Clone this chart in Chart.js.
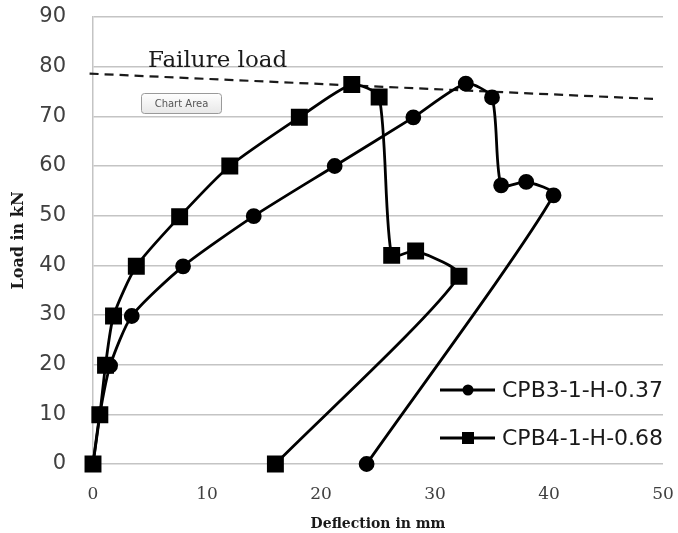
<!DOCTYPE html>
<html>
<head>
<meta charset="utf-8">
<script src="https://cdn.jsdelivr.net/npm/chart.js@4/dist/chart.umd.min.js"></script>
<style>
  html, body { margin: 0; padding: 0; background: #ffffff; }
  #wrap { width: 678px; height: 533px; position: relative; }
</style>
</head>
<body>
<div id="wrap"><canvas id="c"></canvas></div>
<script>
// ---- data ----
const seriesNames = ['CPB3-1-H-0.37', 'CPB4-1-H-0.68'];

const cpb3Deflection = [0, 0.6, 1.5, 3.4, 7.9, 14.1, 21.2, 28.1, 32.7, 35.0, 35.8, 38.0, 40.4, 24.0];
const cpb3Load       = [0, 10, 19.8, 29.8, 39.8, 49.9, 60.0, 69.8, 76.6, 73.8, 56.1, 56.8, 54.1, 0];

const cpb4Deflection = [0, 0.6, 1.1, 1.8, 3.8, 7.6, 12.0, 18.1, 22.7, 25.1, 26.2, 28.3, 32.1, 16.0];
const cpb4Load       = [0, 9.9, 19.9, 29.8, 39.8, 49.8, 60.0, 69.8, 76.4, 73.9, 42.0, 42.9, 37.8, 0];

const failureLabel = 'Failure load';
const failureDeflection = [-0.3, 49.2];
const failureLoad       = [78.6, 73.5];

const xTicks = [0, 10, 20, 30, 40, 50];
const yTicks = [0, 10, 20, 30, 40, 50, 60, 70, 80, 90];

const toPts = (xs, ys) => xs.map((x, i) => ({ x: x, y: ys[i] }));

// custom in-plot legend + annotations
const overlayPlugin = {
  id: 'overlay',
  afterDraw(chart) {
    const ctx = chart.ctx;
    ctx.save();
    // Failure load label
    ctx.fillStyle = '#1a1a1a';
    ctx.font = '23px "DejaVu Serif"';
    ctx.textBaseline = 'alphabetic';
    ctx.textAlign = 'left';
    ctx.fillText(failureLabel, 148, 67);

    // "Chart Area" tooltip box
    const bx = 141, by = 93, bw = 80, bh = 20;
    const g = ctx.createLinearGradient(0, by, 0, by + bh);
    g.addColorStop(0, '#ffffff');
    g.addColorStop(1, '#e8e8e8');
    ctx.fillStyle = g;
    ctx.strokeStyle = '#9a9a9a';
    ctx.lineWidth = 1;
    ctx.beginPath();
    if (ctx.roundRect) ctx.roundRect(bx + 0.5, by + 0.5, bw, bh, 3); else ctx.rect(bx + 0.5, by + 0.5, bw, bh);
    ctx.fill();
    ctx.stroke();
    ctx.fillStyle = '#555555';
    ctx.font = '10px "DejaVu Sans"';
    ctx.textAlign = 'center';
    ctx.textBaseline = 'middle';
    ctx.fillText('Chart Area', bx + bw / 2 + 0.5, by + bh / 2 + 1);

    // legend
    const rows = [390, 438];
    chart.data.datasets.slice(0, 2).forEach((ds, i) => {
      const y = rows[i];
      ctx.strokeStyle = '#000';
      ctx.lineWidth = 3;
      ctx.beginPath();
      ctx.moveTo(440, y);
      ctx.lineTo(495, y);
      ctx.stroke();
      ctx.fillStyle = '#000';
      if (ds.pointStyle === 'circle') {
        ctx.beginPath();
        ctx.arc(468, y, 5.5, 0, Math.PI * 2);
        ctx.fill();
      } else {
        ctx.fillRect(468 - 6, y - 6, 12, 12);
      }
      ctx.font = '22px "DejaVu Sans"';
      ctx.textAlign = 'left';
      ctx.textBaseline = 'middle';
      ctx.fillStyle = '#1a1a1a';
      ctx.fillText(ds.label, 502, y + 1);
    });
    ctx.restore();
  }
};

new Chart(document.getElementById('c'), {
  type: 'scatter',
  data: {
    datasets: [
      {
        label: seriesNames[0],
        data: toPts(cpb3Deflection, cpb3Load),
        showLine: true,
        borderColor: '#000',
        backgroundColor: '#000',
        borderWidth: 2.8,
        pointStyle: 'circle',
        pointRadius: 6.5,
        pointHoverRadius: 6.5,
        clip: false,
        tension: 0.22
      },
      {
        label: seriesNames[1],
        data: toPts(cpb4Deflection, cpb4Load),
        showLine: true,
        borderColor: '#000',
        backgroundColor: '#000',
        borderWidth: 2.8,
        pointStyle: 'rect',
        pointRadius: 10,
        pointHoverRadius: 10,
        clip: false,
        tension: 0.22
      },
      {
        label: failureLabel,
        data: toPts(failureDeflection, failureLoad),
        showLine: true,
        borderColor: '#1a1a1a',
        borderWidth: 2.2,
        borderDash: [9, 6],
        pointRadius: 0,
        clip: false,
        tension: 0
      }
    ]
  },
  options: {
    responsive: true,
    maintainAspectRatio: false,
    animation: false,
    events: [],
    layout: { padding: { left: 0, right: 15, top: 17, bottom: 0 } },
    plugins: {
      legend: { display: false },
      tooltip: { enabled: false }
    },
    scales: {
      x: {
        type: 'linear',
        min: 0, max: 50,
        afterBuildTicks: s => { s.ticks = xTicks.map(v => ({ value: v })); },
        afterFit: s => { s.height = 69; s.paddingLeft = 0; s.paddingRight = 0; },
        grid: { display: false, drawTicks: false },
        border: { display: false },
        ticks: {
          padding: 20,
          color: '#404040',
          font: { family: '"DejaVu Serif"', size: 17 }
        },
        title: {
          display: true,
          text: 'Deflection in mm',
          color: '#1a1a1a',
          font: { family: '"DejaVu Serif"', size: 14, weight: 'bold' },
          padding: { top: 3, bottom: 0 }
        }
      },
      y: {
        type: 'linear',
        min: 0, max: 90,
        afterBuildTicks: s => { s.ticks = yTicks.map(v => ({ value: v })); },
        afterFit: s => { s.width = 93; s.paddingTop = 0; s.paddingBottom = 0; },
        grid: { color: '#c4c4c4', lineWidth: 1.5, drawTicks: false },
        border: { display: true, color: '#c4c4c4', width: 1.5 },
        ticks: {
          padding: 27,
          color: '#404040',
          font: { family: '"DejaVu Sans"', size: 21 }
        },
        title: {
          display: true,
          text: 'Load in kN',
          color: '#1a1a1a',
          font: { family: '"DejaVu Serif"', size: 16, weight: 'bold' },
          padding: { top: 9, bottom: 0 }
        }
      }
    }
  },
  plugins: [overlayPlugin]
});
</script>
</body>
</html>
